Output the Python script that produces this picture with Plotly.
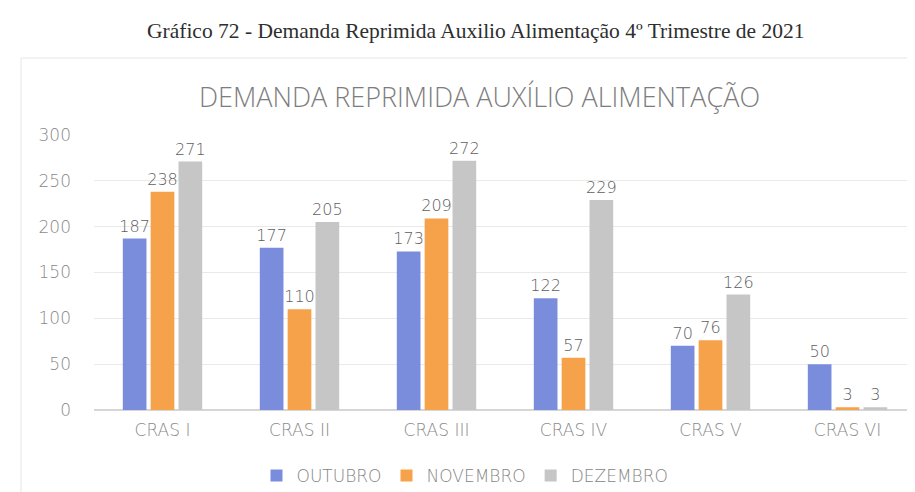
import plotly.graph_objects as go

categories = ["CRAS I", "CRAS II", "CRAS III", "CRAS IV", "CRAS V", "CRAS VI"]
outubro = [187, 177, 173, 122, 70, 50]
novembro = [238, 110, 209, 57, 76, 3]
dezembro = [271, 205, 272, 229, 126, 3]
series_names = ["OUTUBRO", "NOVEMBRO", "DEZEMBRO"]
colors = ["#7a8ddd", "#f5a24b", "#c6c6c6"]
y_ticks = [0, 50, 100, 150, 200, 250, 300]

W, H = 915, 492
L, R, T, B = 86, 7, 127, 90
PW, PH = W - L - R, H - T - B


def px(x):
    return (x - L) / PW


def py(y):
    return (H - B - y) / PH


sans = "DejaVu Sans, Verdana, sans-serif"

fig = go.Figure()
for name, vals, col in zip(series_names, [outubro, novembro, dezembro], colors):
    fig.add_trace(go.Bar(
        x=categories, y=vals, name=name,
        marker=dict(color=col, line=dict(width=0)),
        text=[str(v) for v in vals], textposition="outside",
        textfont=dict(family=sans, size=16, color="#5e5e5e", weight=200),
        constraintext="none", textangle=0,
        cliponaxis=False,
    ))

fig.update_layout(
    width=W, height=H,
    paper_bgcolor="white", plot_bgcolor="white",
    margin=dict(l=L, r=R, t=T, b=B, autoexpand=False),
    barmode="group", bargap=0.39, bargroupgap=0.15,
    font=dict(family=sans, color="#8a8a8a"),
    showlegend=True,
    legend=dict(orientation="h", x=px(457), xanchor="center", y=py(468), yanchor="middle",
                font=dict(family=sans, size=17, color="#858585", weight=200), itemwidth=30,
                traceorder="normal", bgcolor="rgba(0,0,0,0)"),
    xaxis=dict(showline=False, ticks="", tickfont=dict(family=sans, size=17, color="#8a8a8a", weight=200),
               ticklabelstandoff=8),
    yaxis=dict(range=[0, 300], tickvals=y_ticks, showgrid=True, gridcolor="#e9e9e9",
               zeroline=True, zerolinecolor="#d6d6d6", zerolinewidth=1.5, ticks="",
               tickfont=dict(family=sans, size=17, color="#8a8a8a", weight=200), ticklabelstandoff=22),
    shapes=[dict(type="rect", xref="paper", yref="paper",
                 x0=px(13), x1=px(910), y0=py(487), y1=py(50),
                 line=dict(color="#e6e6e6", width=1), fillcolor="rgba(0,0,0,0)", layer="below")],
    annotations=[
        dict(text="Gráfico 72 - Demanda Reprimida Auxilio Alimentação 4º Trimestre de 2021",
             xref="paper", yref="paper", x=px(468), y=py(23),
             xanchor="center", yanchor="middle", showarrow=False,
             font=dict(family="Liberation Serif, Times New Roman, serif", size=21.5, color="#2e2e2e")),
        dict(text="DEMANDA REPRIMIDA AUXÍLIO ALIMENTAÇÃO",
             xref="paper", yref="paper", x=px(471), y=py(88),
             xanchor="center", yanchor="middle", showarrow=False,
             font=dict(family="Open Sans, sans-serif", size=27, color="#7d7d7d", weight=300)),
    ],
)

fig.write_html("out.html")
